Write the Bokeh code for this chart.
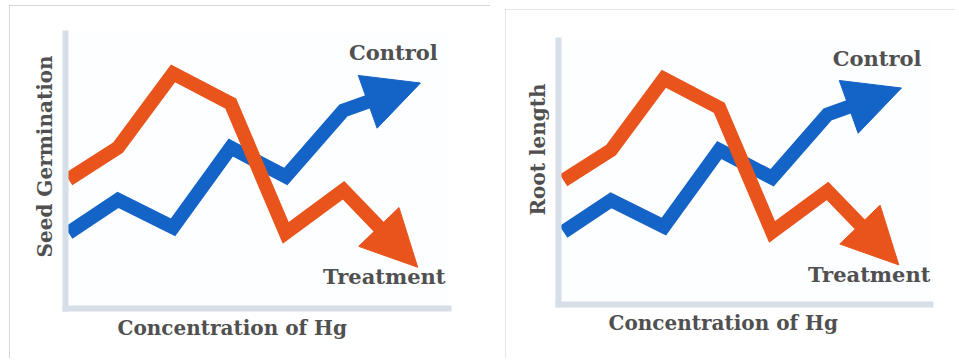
from bokeh.plotting import figure
from bokeh.models import Range1d, Arrow, NormalHead, Label, FixedTicker, Spacer, Title
from bokeh.layouts import row, column
from bokeh.embed import file_html
from bokeh.resources import INLINE

# ---- data (same curves in both panels) ----
conc = [0, 0.9, 1.9, 2.95, 3.95, 5.0]
control = [2.75, 3.95, 2.95, 5.85, 4.8, 7.2]
treatment = [4.7, 5.85, 8.55, 7.45, 2.75, 4.3]
control_tip = [6.4, 8.2]
treatment_tip = [6.35, 1.5]
x_title = "Concentration of Hg"
y_titles = ["Seed Germination", "Root length"]
series_names = ["Control", "Treatment"]

BLUE = "#1463c6"
ORANGE = "#e8541b"
AXIS = "#d6dee8"
TEXT = "#505050"
FONT = "DejaVu Serif"


def panel(ytitle, width, height, borders, xr, xoff, yoff, xstand, bstyle):
    l, r, t, b = borders
    p = figure(width=width, height=height, x_range=Range1d(*xr), y_range=Range1d(0, 10),
               output_backend="svg", toolbar_location=None,
               min_border_left=l, min_border_right=r, min_border_top=t, min_border_bottom=b)
    p.grid.visible = False
    p.outline_line_color = None
    p.background_fill_color = "#fdfeff"
    for ax in p.axis:
        ax.ticker = FixedTicker(ticks=[])
        ax.axis_line_color = AXIS
        ax.axis_line_width = 6
        ax.axis_line_cap = "square"
        ax.major_tick_line_color = None
        ax.minor_tick_line_color = None
        ax.major_tick_out = 0
        ax.major_tick_in = 0
        ax.major_label_standoff = 0
    p.styles = bstyle

    tstyle = dict(text_font=FONT, text_font_style="bold", text_color=TEXT,
                  text_font_size="20px")
    p.add_layout(Title(text=x_title, align="left", offset=xoff, vertical_align="top",
                       standoff=xstand, **tstyle), "below")
    p.add_layout(Title(text=ytitle, align="left", offset=yoff, vertical_align="bottom",
                       standoff=18, **tstyle), "left")

    for ys, tip, col in [(control, control_tip, BLUE), (treatment, treatment_tip, ORANGE)]:
        # line runs through the points and a little into the arrow head
        ext_x = conc[-1] + 0.7 * (tip[0] - conc[-1])
        ext_y = ys[-1] + 0.7 * (tip[1] - ys[-1])
        p.line(conc + [ext_x], ys + [ext_y], line_color=col, line_width=14,
               line_join="miter", line_cap="butt")
        p.add_layout(Arrow(end=NormalHead(size=56, fill_color=col, line_color=col, line_width=1),
                           x_start=conc[-1], y_start=ys[-1], x_end=tip[0], y_end=tip[1],
                           line_alpha=0))

    common = dict(text_font=FONT, text_font_style="bold", text_color=TEXT, text_font_size="21px")
    p.add_layout(Label(x=5.1, y=9.3, text=series_names[0], text_align="left",
                       text_baseline="middle", **common))
    p.add_layout(Label(x=4.63, y=1.15, text=series_names[1], text_align="left",
                       text_baseline="middle", **common))
    return p


p1 = panel(y_titles[0], 481, 353, (56, 42, 28, 50), (-0.055, 6.91), 52, 51, 15,
           {"outline": "1px solid #c8c8c8", "outline-offset": "-1px"})
p2 = panel(y_titles[1], 450, 349, (53, 25, 31, 54), (-0.095, 6.95), 50, 89, 13,
           {"outline": "1px solid #dcdcdc", "outline-offset": "-1px"})

layout = row(Spacer(width=9), column(Spacer(height=5), p1), Spacer(width=15),
             column(Spacer(height=9), p2))
open("out.html", "w").write(file_html(layout, INLINE))
